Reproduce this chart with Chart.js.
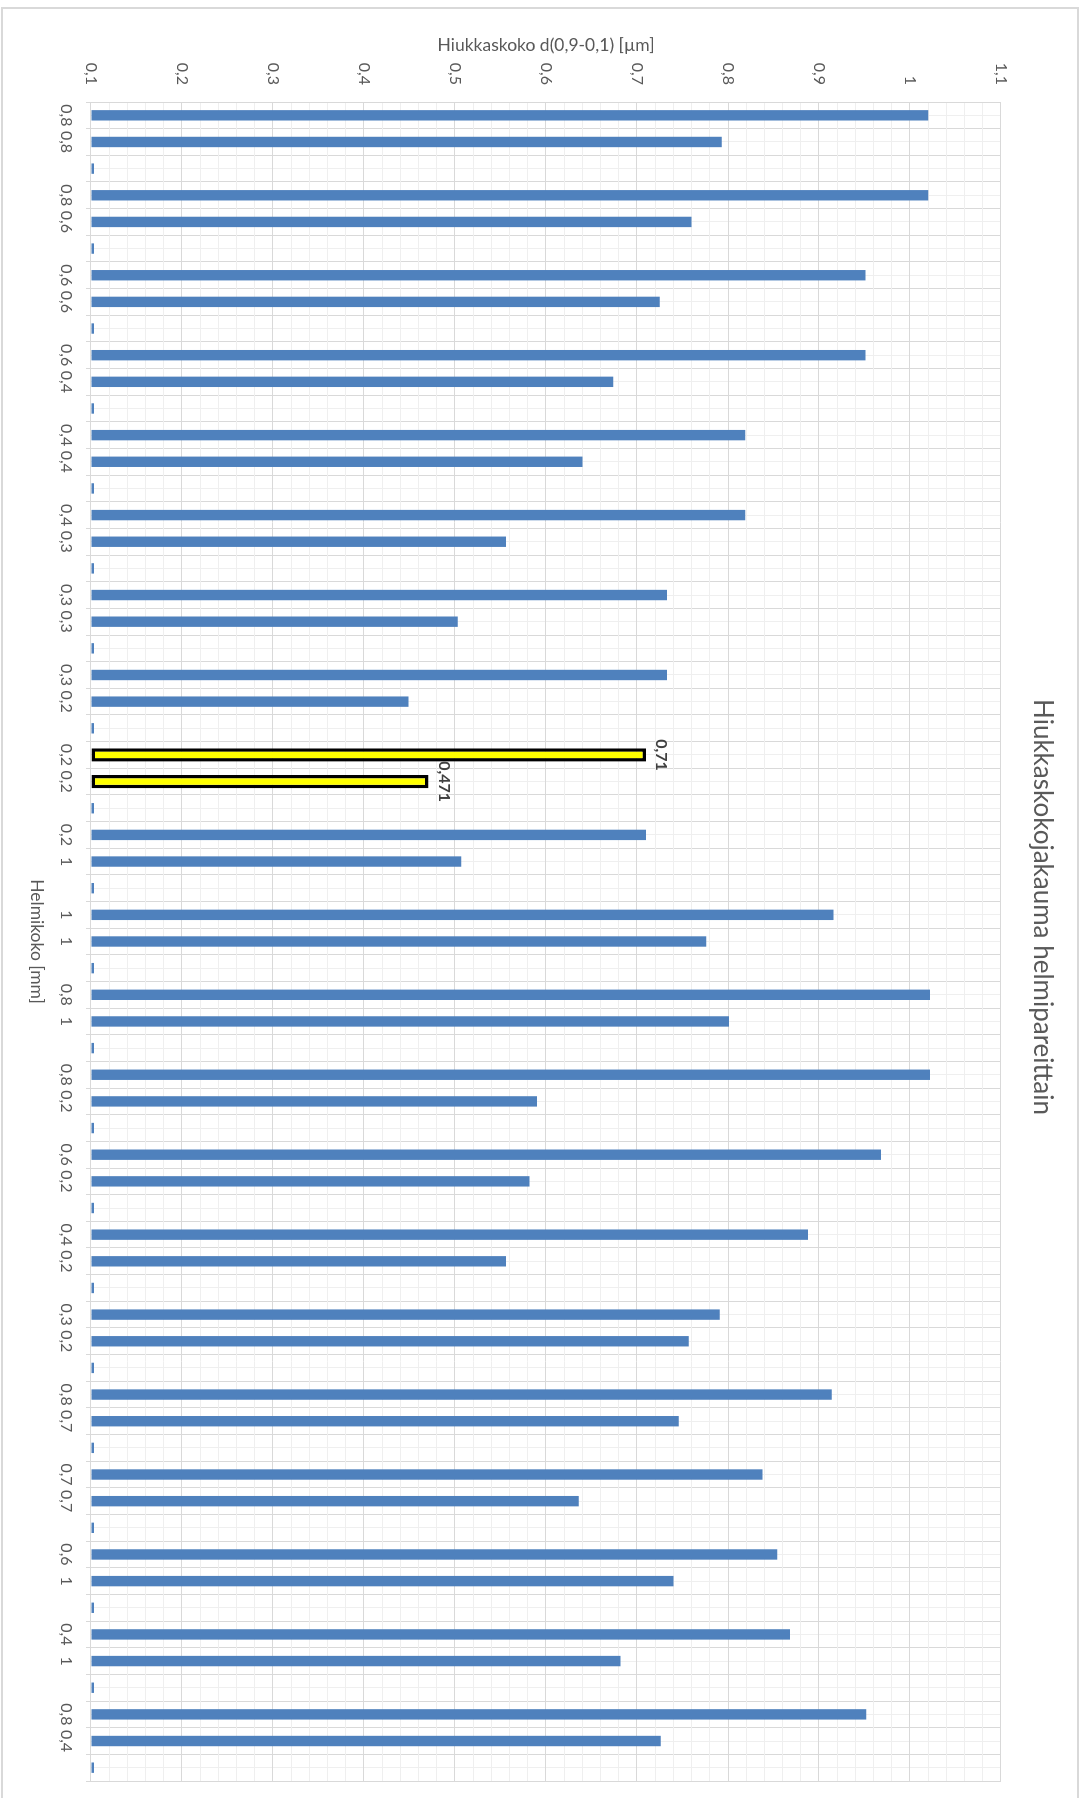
<!DOCTYPE html>
<html>
<head>
<meta charset="utf-8">
<script src="https://cdn.jsdelivr.net/npm/chart.js@4.4.1/dist/chart.umd.min.js"></script>
<style>
  html, body { margin: 0; padding: 0; background: #fff; overflow: hidden; }
  body { width: 1081px; height: 1798px; position: relative; }
  #frame { position: absolute; left: 1px; top: 7px; width: 1074px; height: 1830px; border: 2px solid #d9d9d9; }
  /* chart is laid out landscape and turned a quarter clockwise */
  #wrap { position: absolute; left: 0; top: 0; width: 1798px; height: 1081px;
          transform-origin: 0 0; transform: translate(1081px, 0) rotate(90deg); }
</style>
</head>
<body>
<div id="frame"></div>
<div id="wrap"><canvas id="beadChart" width="1798" height="1081"></canvas></div>
<script>
// bead pairs (mm), one label per bar
var pairLabels = [
  ['0,8', '0,8'], ['0,8', '0,6'], ['0,6', '0,6'], ['0,6', '0,4'], ['0,4', '0,4'],
  ['0,4', '0,3'], ['0,3', '0,3'], ['0,3', '0,2'], ['0,2', '0,2'], ['0,2', '1'],
  ['1', '1'], ['0,8', '1'], ['0,8', '0,2'], ['0,6', '0,2'], ['0,4', '0,2'],
  ['0,3', '0,2'], ['0,8', '0,7'], ['0,7', '0,7'], ['0,6', '1'], ['0,4', '1'],
  ['0,8', '0,4']
];
// particle size d(0,9-0,1) for first and second bar of each pair
var firstValues  = [1.02, 1.02, 0.951, 0.951, 0.819, 0.819, 0.733, 0.733, 0.71, 0.71,
                    0.916, 1.022, 1.022, 0.968, 0.888, 0.791, 0.914, 0.838, 0.854, 0.868, 0.952];
var secondValues = [0.793, 0.760, 0.725, 0.674, 0.640, 0.556, 0.503, 0.449, 0.471, 0.507,
                    0.776, 0.801, 0.590, 0.582, 0.556, 0.757, 0.746, 0.636, 0.740, 0.682, 0.726];
var spacerValue = 0.1;
var highlightPair = 8;

var valueMin = 0.1, valueMax = 1.1;
var valueTickLabels = ['0,1', '0,2', '0,3', '0,4', '0,5', '0,6', '0,7', '0,8', '0,9', '1', '1,1'];

var chartTitle = 'Hiukkaskokojakauma helmipareittain';
var valueTitle = 'Hiukkaskoko d(0,9-0,1) [µm]';
var categoryTitle = 'Helmikoko [mm]';

// build the category list: two bars then an empty slot per pair
var labels = [], mainData = [], highData = [];
pairLabels.forEach(function(p, i) {
  labels.push(p[0], p[1], '');
  if (i === highlightPair) {
    mainData.push(null, null, spacerValue);
    highData.push(firstValues[i], secondValues[i], null);
  } else {
    mainData.push(firstValues[i], secondValues[i], spacerValue);
    highData.push(null, null, null);
  }
});

// gridlines every 0.02, labelled every 0.1
var gridSteps = [];
for (var k = 0; k <= 50; k++) gridSteps.push(+(valueMin + k * 0.02).toFixed(2));

var txt = '#595959';
Chart.defaults.font.family = 'Lato, "Open Sans", sans-serif';
Chart.defaults.font.size = 16;
Chart.defaults.color = txt;

var titlePlugin = {
  id: 'sideTitle',
  afterDraw: function(chart) {
    var ctx = chart.ctx;
    ctx.save();
    ctx.font = '26px Lato, sans-serif';
    ctx.fillStyle = txt;
    ctx.textAlign = 'center';
    ctx.textBaseline = 'middle';
    ctx.fillText(chartTitle, 907, 39);
    ctx.restore();
  }
};

var valueLabels = {
  id: 'valueLabels',
  afterDatasetsDraw: function(chart) {
    var ctx = chart.ctx, ds = chart.data.datasets[1], meta = chart.getDatasetMeta(1);
    ctx.save();
    ctx.font = 'bold 16px Lato, sans-serif';
    ctx.fillStyle = '#404040';
    ctx.textAlign = 'center';
    ctx.textBaseline = 'alphabetic';
    meta.data.forEach(function(bar, i) {
      var v = ds.data[i];
      if (v == null) return;
      ctx.fillText(String(v).replace('.', ','), bar.x, bar.y - 10);
    });
    ctx.restore();
  }
};

new Chart(document.getElementById('beadChart').getContext('2d'), {
  type: 'bar',
  data: { labels: labels, datasets: [
    { data: mainData, backgroundColor: '#4f81bd', borderWidth: 0, base: valueMin, minBarLength: 3,
      barPercentage: 0.39, categoryPercentage: 1, grouped: false },
    { data: highData, backgroundColor: '#ffff00', borderColor: '#000000', borderWidth: 3.5, borderSkipped: false,
      base: valueMin, barPercentage: 0.5, categoryPercentage: 1, grouped: false }
  ]},
  options: {
    responsive: false, animation: false,
    layout: { padding: { top: 80, right: 17, left: 0, bottom: 0 } },
    plugins: { legend: { display: false }, tooltip: { enabled: false }, title: { display: false } },
    scales: {
      x: {
        offset: true,
        grid: { offset: true, color: '#d9d9d9', tickLength: 5 },
        border: { color: '#d9d9d9' },
        ticks: { autoSkip: false, maxRotation: 0, minRotation: 0, padding: 10 },
        title: { display: true, text: categoryTitle, font: { size: 17.5 }, padding: { top: 0, bottom: 26 } },
        afterFit: function(s) { s.height = 91; }
      },
      xMinor: {
        type: 'category', position: 'bottom', offset: true,
        grid: { offset: false, color: '#efefef', drawTicks: false },
        ticks: { display: false }, border: { display: false },
        afterFit: function(s) { s.height = 0; }
      },
      y: {
        min: valueMin, max: valueMax,
        afterBuildTicks: function(s) { s.ticks = gridSteps.map(function(v) { return { value: v }; }); },
        grid: { drawTicks: false, color: function(c) { return c.index % 5 === 0 ? '#d9d9d9' : '#efefef'; } },
        border: { color: '#d9d9d9' },
        ticks: { autoSkip: false, padding: 17,
          callback: function(v, i) { return i % 5 === 0 ? valueTickLabels[i / 5] : ''; } },
        title: { display: true, text: valueTitle, font: { size: 17.5 }, padding: { top: 35, bottom: 0 } },
        afterFit: function(s) { s.width = 102; }
      }
    }
  },
  plugins: [titlePlugin, valueLabels]
});
</script>
</body>
</html>
